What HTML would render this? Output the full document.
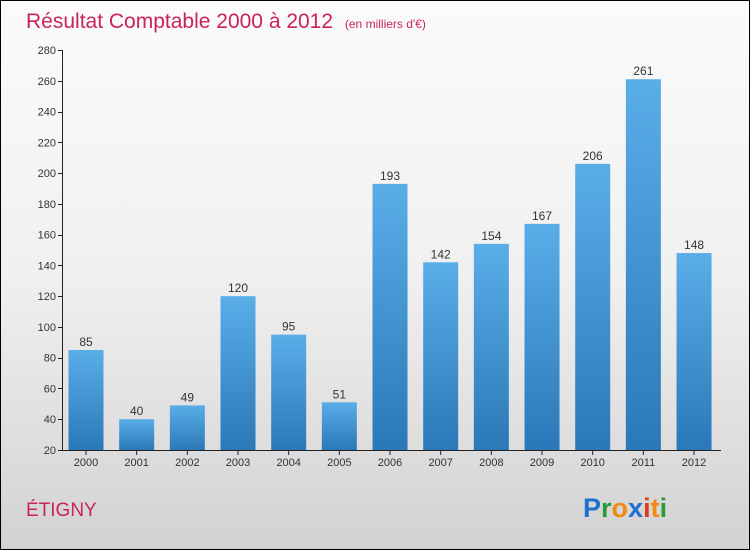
<!DOCTYPE html>
<html><head><meta charset="utf-8"><style>
body{margin:0}
#c{position:relative;width:748px;height:548px;border:1px solid #000;background:linear-gradient(#fbfbfb,#f0f0f0 50%,#d2d2d2);font-family:"Liberation Sans",sans-serif;overflow:hidden}
</style></head><body>
<div id="c">
<svg width="748" height="548">
<defs><linearGradient id="g" x1="0" y1="0" x2="0" y2="1"><stop offset="0" stop-color="#5aaee8"/><stop offset="1" stop-color="#2a78b8"/></linearGradient></defs>
<text x="25" y="27" font-size="21" fill="#c8245a">Résultat Comptable 2000 à 2012 <tspan font-size="12" dx="6">(en milliers d'€)</tspan></text>
<text x="25" y="515" font-size="19" fill="#c8245a">ÉTIGNY</text>
<g id="ax"></g><g id="bars"></g>
<text x="582" y="516" font-size="27" font-weight="bold"><tspan fill="#1f6fd0">P</tspan><tspan fill="#2a9a3a">r</tspan><tspan fill="#f08a10">o</tspan><tspan fill="#1f6fd0">x</tspan><tspan fill="#e03a1a">i</tspan><tspan fill="#f08a10">t</tspan><tspan fill="#2a9a3a">i</tspan></text>
</svg></div>
<script>
const years=["2000","2001","2002","2003","2004","2005","2006","2007","2008","2009","2010","2011","2012"];
const values=[85,40,49,120,95,51,193,142,154,167,206,261,148];
const yTicks=[20,40,60,80,100,120,140,160,180,200,220,240,260,280];
const NS="http://www.w3.org/2000/svg";
const y0=449,y1=49,vmin=20,vmax=280;
function y(v){return y0-(v-vmin)/(vmax-vmin)*(y0-y1);}
function x(i){return 85+i*50.67;}
function mk(t,a,p){const e=document.createElementNS(NS,t);for(const k in a)e.setAttribute(k,a[k]);p.appendChild(e);return e;}
const ax=document.getElementById('ax'),bars=document.getElementById('bars');
const yl=mk('line',{x1:61.5,y1:y1,x2:61.5,y2:y0,stroke:'#222'},ax);


const xl=mk('line',{x1:61.5,y1:y0+0.5,x2:720,y2:y0+0.5,stroke:'#222'},ax);


yTicks.forEach(t=>{
 mk('line',{x1:57,x2:62,y1:Math.round(y(t))+0.5,y2:Math.round(y(t))+0.5,stroke:'#222'},ax);
 const tx=mk('text',{x:55,y:y(t)+4,'font-size':11,'text-anchor':'end',fill:'#333'},ax);
 tx.textContent=t;
 
 
});
years.forEach((yr,i)=>{
 const cx=x(i),v=values[i];
 const r=mk('rect',{x:cx-17.5,y:y(v),width:35,height:y0-y(v),fill:'url(#g)'},bars);
 
 
 mk('line',{x1:cx,x2:cx,y1:y0,y2:y0+5,stroke:'#222'},ax);
 const lt=mk('text',{x:cx,y:y0+16,'font-size':11,'text-anchor':'middle',fill:'#333'},ax);
 lt.textContent=yr;
 
 
 const vt=mk('text',{x:cx,y:y(v)-4,'font-size':12,'text-anchor':'middle',fill:'#333'},bars);
 vt.textContent=v;
 
 
});
</script>
</body></html>
